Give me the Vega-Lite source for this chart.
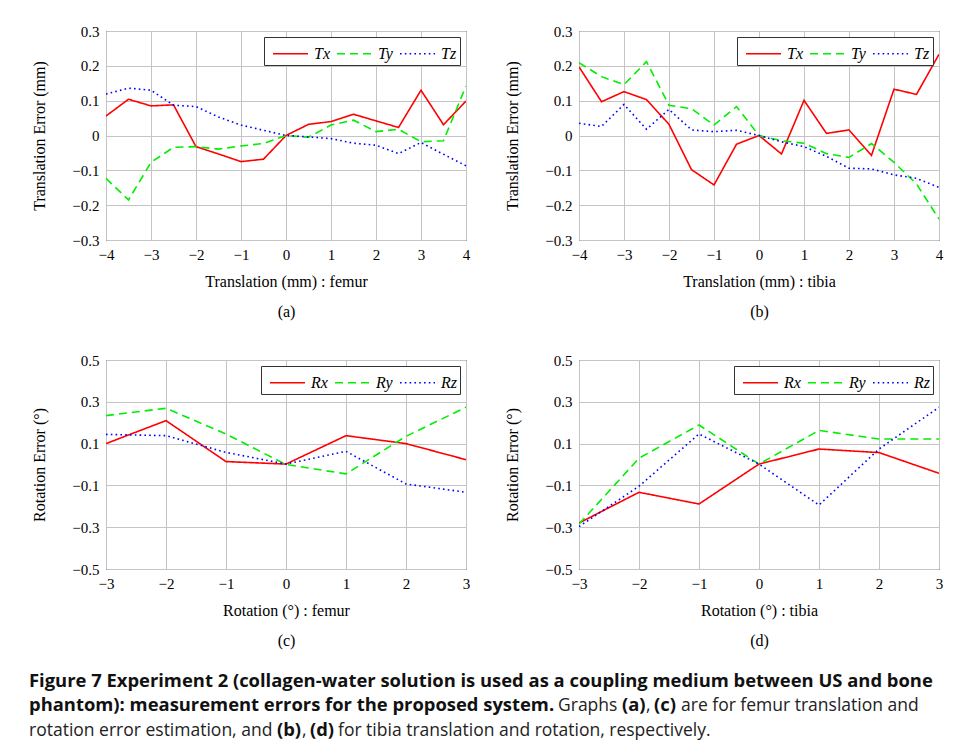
{
  "$schema": "https://vega.github.io/schema/vega-lite/v6.json",
  "padding": {"left": 29, "top": 23, "right": 5, "bottom": 2},
  "background": "white",
  "datasets": {
    "a": [
      {"x": -4, "s": "Tx", "y": 0.056}, {"x": -3.5, "s": "Tx", "y": 0.104}, {"x": -3, "s": "Tx", "y": 0.085}, {"x": -2.5, "s": "Tx", "y": 0.088},
      {"x": -2, "s": "Tx", "y": -0.032}, {"x": -1.5, "s": "Tx", "y": -0.053}, {"x": -1, "s": "Tx", "y": -0.075}, {"x": -0.5, "s": "Tx", "y": -0.068},
      {"x": 0, "s": "Tx", "y": 0}, {"x": 0.5, "s": "Tx", "y": 0.032}, {"x": 1, "s": "Tx", "y": 0.04}, {"x": 1.5, "s": "Tx", "y": 0.061},
      {"x": 2, "s": "Tx", "y": 0.042}, {"x": 2.5, "s": "Tx", "y": 0.023}, {"x": 3, "s": "Tx", "y": 0.13}, {"x": 3.5, "s": "Tx", "y": 0.031}, {"x": 4, "s": "Tx", "y": 0.099},
      {"x": -4, "s": "Ty", "y": -0.123}, {"x": -3.5, "s": "Ty", "y": -0.185}, {"x": -3, "s": "Ty", "y": -0.077}, {"x": -2.5, "s": "Ty", "y": -0.034},
      {"x": -2, "s": "Ty", "y": -0.032}, {"x": -1.5, "s": "Ty", "y": -0.039}, {"x": -1, "s": "Ty", "y": -0.03}, {"x": -0.5, "s": "Ty", "y": -0.023},
      {"x": 0, "s": "Ty", "y": 0}, {"x": 0.5, "s": "Ty", "y": -0.005}, {"x": 1, "s": "Ty", "y": 0.03}, {"x": 1.5, "s": "Ty", "y": 0.044},
      {"x": 2, "s": "Ty", "y": 0.011}, {"x": 2.5, "s": "Ty", "y": 0.018}, {"x": 3, "s": "Ty", "y": -0.018}, {"x": 3.5, "s": "Ty", "y": -0.015}, {"x": 4, "s": "Ty", "y": 0.142},
      {"x": -4, "s": "Tz", "y": 0.119}, {"x": -3.5, "s": "Tz", "y": 0.136}, {"x": -3, "s": "Tz", "y": 0.13}, {"x": -2.5, "s": "Tz", "y": 0.087},
      {"x": -2, "s": "Tz", "y": 0.083}, {"x": -1.5, "s": "Tz", "y": 0.053}, {"x": -1, "s": "Tz", "y": 0.03}, {"x": -0.5, "s": "Tz", "y": 0.015},
      {"x": 0, "s": "Tz", "y": 0}, {"x": 0.5, "s": "Tz", "y": -0.004}, {"x": 1, "s": "Tz", "y": -0.009}, {"x": 1.5, "s": "Tz", "y": -0.022},
      {"x": 2, "s": "Tz", "y": -0.028}, {"x": 2.5, "s": "Tz", "y": -0.052}, {"x": 3, "s": "Tz", "y": -0.02}, {"x": 3.5, "s": "Tz", "y": -0.054}, {"x": 4, "s": "Tz", "y": -0.087}
    ],
    "b": [
      {"x": -4, "s": "Tx", "y": 0.197}, {"x": -3.5, "s": "Tx", "y": 0.097}, {"x": -3, "s": "Tx", "y": 0.126}, {"x": -2.5, "s": "Tx", "y": 0.103},
      {"x": -2, "s": "Tx", "y": 0.032}, {"x": -1.5, "s": "Tx", "y": -0.098}, {"x": -1, "s": "Tx", "y": -0.142}, {"x": -0.5, "s": "Tx", "y": -0.025},
      {"x": 0, "s": "Tx", "y": 0}, {"x": 0.5, "s": "Tx", "y": -0.053}, {"x": 1, "s": "Tx", "y": 0.101}, {"x": 1.5, "s": "Tx", "y": 0.006},
      {"x": 2, "s": "Tx", "y": 0.016}, {"x": 2.5, "s": "Tx", "y": -0.057}, {"x": 3, "s": "Tx", "y": 0.133}, {"x": 3.5, "s": "Tx", "y": 0.118}, {"x": 4, "s": "Tx", "y": 0.233},
      {"x": -4, "s": "Ty", "y": 0.209}, {"x": -3.5, "s": "Ty", "y": 0.169}, {"x": -3, "s": "Ty", "y": 0.146}, {"x": -2.5, "s": "Ty", "y": 0.212},
      {"x": -2, "s": "Ty", "y": 0.087}, {"x": -1.5, "s": "Ty", "y": 0.077}, {"x": -1, "s": "Ty", "y": 0.03}, {"x": -0.5, "s": "Ty", "y": 0.083},
      {"x": 0, "s": "Ty", "y": 0}, {"x": 0.5, "s": "Ty", "y": -0.015}, {"x": 1, "s": "Ty", "y": -0.022}, {"x": 1.5, "s": "Ty", "y": -0.052},
      {"x": 2, "s": "Ty", "y": -0.063}, {"x": 2.5, "s": "Ty", "y": -0.023}, {"x": 3, "s": "Ty", "y": -0.077}, {"x": 3.5, "s": "Ty", "y": -0.139}, {"x": 4, "s": "Ty", "y": -0.24},
      {"x": -4, "s": "Tz", "y": 0.035}, {"x": -3.5, "s": "Tz", "y": 0.026}, {"x": -3, "s": "Tz", "y": 0.089}, {"x": -2.5, "s": "Tz", "y": 0.018},
      {"x": -2, "s": "Tz", "y": 0.075}, {"x": -1.5, "s": "Tz", "y": 0.016}, {"x": -1, "s": "Tz", "y": 0.011}, {"x": -0.5, "s": "Tz", "y": 0.015},
      {"x": 0, "s": "Tz", "y": 0}, {"x": 0.5, "s": "Tz", "y": -0.018}, {"x": 1, "s": "Tz", "y": -0.032}, {"x": 1.5, "s": "Tz", "y": -0.06},
      {"x": 2, "s": "Tz", "y": -0.094}, {"x": 2.5, "s": "Tz", "y": -0.096}, {"x": 3, "s": "Tz", "y": -0.113}, {"x": 3.5, "s": "Tz", "y": -0.123}, {"x": 4, "s": "Tz", "y": -0.149}
    ],
    "c": [
      {"x": -3, "s": "Rx", "y": 0.1}, {"x": -2, "s": "Rx", "y": 0.21}, {"x": -1, "s": "Rx", "y": 0.014}, {"x": 0, "s": "Rx", "y": 0.002},
      {"x": 1, "s": "Rx", "y": 0.138}, {"x": 2, "s": "Rx", "y": 0.1}, {"x": 3, "s": "Rx", "y": 0.023},
      {"x": -3, "s": "Ry", "y": 0.234}, {"x": -2, "s": "Ry", "y": 0.269}, {"x": -1, "s": "Ry", "y": 0.146}, {"x": 0, "s": "Ry", "y": 0},
      {"x": 1, "s": "Ry", "y": -0.045}, {"x": 2, "s": "Ry", "y": 0.135}, {"x": 3, "s": "Ry", "y": 0.274},
      {"x": -3, "s": "Rz", "y": 0.144}, {"x": -2, "s": "Rz", "y": 0.138}, {"x": -1, "s": "Rz", "y": 0.058}, {"x": 0, "s": "Rz", "y": 0.002},
      {"x": 1, "s": "Rz", "y": 0.063}, {"x": 2, "s": "Rz", "y": -0.093}, {"x": 3, "s": "Rz", "y": -0.133}
    ],
    "d": [
      {"x": -3, "s": "Rx", "y": -0.28}, {"x": -2, "s": "Rx", "y": -0.133}, {"x": -1, "s": "Rx", "y": -0.189}, {"x": 0, "s": "Rx", "y": 0.002},
      {"x": 1, "s": "Rx", "y": 0.074}, {"x": 2, "s": "Rx", "y": 0.057}, {"x": 3, "s": "Rx", "y": -0.042},
      {"x": -3, "s": "Ry", "y": -0.285}, {"x": -2, "s": "Ry", "y": 0.03}, {"x": -1, "s": "Ry", "y": 0.189}, {"x": 0, "s": "Ry", "y": 0.002},
      {"x": 1, "s": "Ry", "y": 0.163}, {"x": 2, "s": "Ry", "y": 0.122}, {"x": 3, "s": "Ry", "y": 0.122},
      {"x": -3, "s": "Rz", "y": -0.297}, {"x": -2, "s": "Rz", "y": -0.104}, {"x": -1, "s": "Rz", "y": 0.146}, {"x": 0, "s": "Rz", "y": 0.002},
      {"x": 1, "s": "Rz", "y": -0.194}, {"x": 2, "s": "Rz", "y": 0.074}, {"x": 3, "s": "Rz", "y": 0.274}
    ],
    "caption": [
      {"line": 1, "pos": 29, "b": true, "t": "Figure 7 Experiment 2 (collagen-water solution is used as a coupling medium between US and bone"},
      {"line": 2, "pos": 29, "b": true, "t": "phantom): measurement errors for the proposed system."},
      {"line": 2, "pos": 558, "b": false, "t": "Graphs"},
      {"line": 2, "pos": 622, "b": true, "t": "(a)"},
      {"line": 2, "pos": 646, "b": false, "t": ","},
      {"line": 2, "pos": 654, "b": true, "t": "(c)"},
      {"line": 2, "pos": 681, "b": false, "t": "are for femur translation and"},
      {"line": 3, "pos": 29, "b": false, "t": "rotation error estimation, and"},
      {"line": 3, "pos": 277, "b": true, "t": "(b)"},
      {"line": 3, "pos": 302, "b": false, "t": ","},
      {"line": 3, "pos": 310, "b": true, "t": "(d)"},
      {"line": 3, "pos": 338, "b": false, "t": "for tibia translation and rotation, respectively."}
    ]
  },
  "spacing": 13,
  "resolve": {"scale": {"color": "independent", "strokeDash": "independent"}, "legend": {"color": "independent", "strokeDash": "independent"}},
  "vconcat": [
    {
      "spacing": 32,
      "resolve": {"scale": {"color": "independent", "strokeDash": "independent"}, "legend": {"color": "independent", "strokeDash": "independent"}},
      "vconcat": [
        {
          "spacing": 33,
          "resolve": {"scale": {"color": "independent", "strokeDash": "independent"}, "legend": {"color": "independent", "strokeDash": "independent"}},
          "hconcat": [
            {
              "data": {"name": "a"},
              "width": 360, "height": 209,
              "mark": {"type": "line", "strokeWidth": 1.6, "clip": true},
              "encoding": {
                "x": {"field": "x", "type": "quantitative", "scale": {"domain": [-4, 4], "nice": false},
                      "axis": {"values": [-4, -3, -2, -1, 0, 1, 2, 3, 4], "title": ["Translation (mm) : femur", "(a)"]}},
                "y": {"field": "y", "type": "quantitative", "scale": {"domain": [-0.3, 0.3], "nice": false},
                      "axis": {"values": [-0.3, -0.2, -0.1, 0, 0.1, 0.2, 0.3], "title": "Translation Error (mm)"}},
                "color": {"field": "s", "type": "nominal", "scale": {"domain": ["Tx", "Ty", "Tz"], "range": ["#ff0000", "#00ee00", "#0000ff"]}, "legend": {"title": null}},
                "strokeDash": {"field": "s", "type": "nominal", "scale": {"domain": ["Tx", "Ty", "Tz"], "range": [[1, 0], [8, 5], [1.6, 3.2]]}, "legend": {"title": null}}
              }
            },
            {
              "data": {"name": "b"},
              "width": 360, "height": 209,
              "mark": {"type": "line", "strokeWidth": 1.6, "clip": true},
              "encoding": {
                "x": {"field": "x", "type": "quantitative", "scale": {"domain": [-4, 4], "nice": false},
                      "axis": {"values": [-4, -3, -2, -1, 0, 1, 2, 3, 4], "title": ["Translation (mm) : tibia", "(b)"]}},
                "y": {"field": "y", "type": "quantitative", "scale": {"domain": [-0.3, 0.3], "nice": false},
                      "axis": {"values": [-0.3, -0.2, -0.1, 0, 0.1, 0.2, 0.3], "title": "Translation Error (mm)"}},
                "color": {"field": "s", "type": "nominal", "scale": {"domain": ["Tx", "Ty", "Tz"], "range": ["#ff0000", "#00ee00", "#0000ff"]}, "legend": {"title": null}},
                "strokeDash": {"field": "s", "type": "nominal", "scale": {"domain": ["Tx", "Ty", "Tz"], "range": [[1, 0], [8, 5], [1.6, 3.2]]}, "legend": {"title": null}}
              }
            }
          ]
        },
        {
          "spacing": 33,
          "resolve": {"scale": {"color": "independent", "strokeDash": "independent"}, "legend": {"color": "independent", "strokeDash": "independent"}},
          "hconcat": [
            {
              "data": {"name": "c"},
              "width": 360, "height": 209,
              "mark": {"type": "line", "strokeWidth": 1.6, "clip": true},
              "encoding": {
                "x": {"field": "x", "type": "quantitative", "scale": {"domain": [-3, 3], "nice": false},
                      "axis": {"values": [-3, -2, -1, 0, 1, 2, 3], "title": ["Rotation (°) : femur", "(c)"]}},
                "y": {"field": "y", "type": "quantitative", "scale": {"domain": [-0.5, 0.5], "nice": false},
                      "axis": {"values": [-0.5, -0.3, -0.1, 0.1, 0.3, 0.5], "title": "Rotation Error (°)"}},
                "color": {"field": "s", "type": "nominal", "scale": {"domain": ["Rx", "Ry", "Rz"], "range": ["#ff0000", "#00ee00", "#0000ff"]}, "legend": {"title": null}},
                "strokeDash": {"field": "s", "type": "nominal", "scale": {"domain": ["Rx", "Ry", "Rz"], "range": [[1, 0], [8, 5], [1.6, 3.2]]}, "legend": {"title": null}}
              }
            },
            {
              "data": {"name": "d"},
              "width": 360, "height": 209,
              "mark": {"type": "line", "strokeWidth": 1.6, "clip": true},
              "encoding": {
                "x": {"field": "x", "type": "quantitative", "scale": {"domain": [-3, 3], "nice": false},
                      "axis": {"values": [-3, -2, -1, 0, 1, 2, 3], "title": ["Rotation (°) : tibia", "(d)"]}},
                "y": {"field": "y", "type": "quantitative", "scale": {"domain": [-0.5, 0.5], "nice": false},
                      "axis": {"values": [-0.5, -0.3, -0.1, 0.1, 0.3, 0.5], "title": "Rotation Error (°)"}},
                "color": {"field": "s", "type": "nominal", "scale": {"domain": ["Rx", "Ry", "Rz"], "range": ["#ff0000", "#00ee00", "#0000ff"]}, "legend": {"title": null}},
                "strokeDash": {"field": "s", "type": "nominal", "scale": {"domain": ["Rx", "Ry", "Rz"], "range": [[1, 0], [8, 5], [1.6, 3.2]]}, "legend": {"title": null}}
              }
            }
          ]
        }
      ]
    },
    {
      "data": {"name": "caption"},
      "width": 900, "height": 74,
      "view": {"stroke": null},
      "layer": [
        {
          "transform": [{"filter": "datum.b"}],
          "mark": {"type": "text", "align": "left", "baseline": "alphabetic", "font": "Open Sans", "fontSize": 18.4, "fontWeight": "bold", "color": "#111"},
          "encoding": {
            "x": {"field": "pos", "type": "quantitative", "scale": {"domain": [106, 1006], "nice": false, "zero": false}, "axis": null},
            "y": {"field": "line", "type": "quantitative", "scale": {"domain": [0, 3], "reverse": true, "nice": false}, "axis": null},
            "text": {"field": "t"}
          }
        },
        {
          "transform": [{"filter": "!datum.b"}],
          "mark": {"type": "text", "align": "left", "baseline": "alphabetic", "font": "Open Sans", "fontSize": 17.5, "color": "#222"},
          "encoding": {
            "x": {"field": "pos", "type": "quantitative", "scale": {"domain": [106, 1006], "nice": false, "zero": false}, "axis": null},
            "y": {"field": "line", "type": "quantitative", "scale": {"domain": [0, 3], "reverse": true, "nice": false}, "axis": null},
            "text": {"field": "t"}
          }
        }
      ]
    }
  ],
  "config": {
    "font": "Liberation Serif",
    "view": {"stroke": "#000", "strokeWidth": 1},
    "axis": {
      "labelFont": "Liberation Serif", "labelFontSize": 15, "labelColor": "#000",
      "titleFont": "Liberation Serif", "titleFontSize": 16, "titleFontWeight": "normal", "titleColor": "#000",
      "grid": true, "gridColor": "#c4c4c4", "gridWidth": 1,
      "domain": false, "ticks": false,
      "labelFlush": false, "labelOverlap": false, "labelBound": false,
      "format": "~g"
    },
    "axisX": {"labelPadding": 7, "titlePadding": 11, "titleLineHeight": 30},
    "axisY": {"labelPadding": 7, "titlePadding": 24},
    "legend": {
      "orient": "top-right", "offset": 6, "direction": "horizontal",
      "symbolType": "M-1.4,0H1.4", "symbolSize": 625, "symbolStrokeWidth": 1.6, "symbolOffset": 10,
      "labelFont": "Liberation Serif", "labelFontStyle": "italic", "labelFontSize": 16, "labelColor": "#000",
      "labelOffset": 10, "columnPadding": 1, "padding": 3,
      "strokeColor": "#333", "fillColor": "#fff", "cornerRadius": 0
    }
  }
}
